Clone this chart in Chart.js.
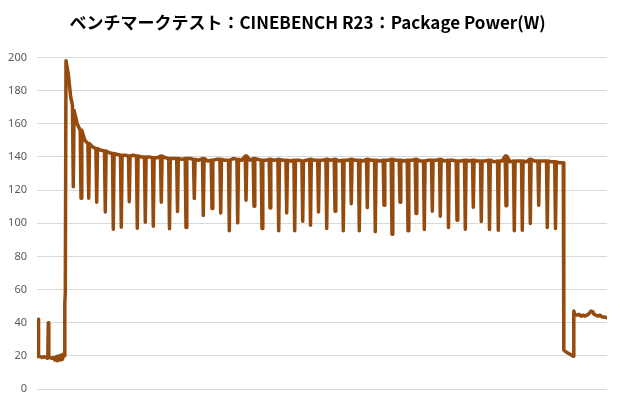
<!DOCTYPE html>
<html>
<head>
<meta charset="utf-8">
<script src="https://cdn.jsdelivr.net/npm/chart.js@4/dist/chart.umd.min.js"></script>
<style>
html,body{margin:0;padding:0;background:#fff;}
#wrap{width:620px;height:410px;position:relative;}
</style>
</head>
<body>
<div id="wrap"><canvas id="c" width="620" height="410"></canvas></div>
<script>
// Title and axis
const chartTitle = "ベンチマークテスト：CINEBENCH R23：Package Power(W)";
const yTicks = [0, 20, 40, 60, 80, 100, 120, 140, 160, 180, 200];

// Idle period and start-up spike (time, watts)
const headT = [0.3, 1.0, 1.3, 1.8, 3, 5, 7, 9, 10.5, 10.8, 11.3, 11.8, 13, 15, 16.5, 18, 19.5, 20.5, 22, 23.5, 24.5, 25.5, 26.5, 27.5, 27.8, 28.3, 29, 31.3, 33.7, 35.5];
const headV = [19.5, 31.5, 42, 20, 19.5, 19, 19.5, 19, 18.5, 19, 40, 19, 19, 18.5, 19, 17.5, 19.5, 17, 20, 17.5, 20.5, 18, 21, 20, 52, 58, 198, 190, 176, 171];

// Load period: periodic dips (time, bottom value), level around each dip, level midway to next dip
const dipT = [36.3, 44, 51.7, 59.7, 68.3, 76.3, 84.3, 92.3, 100.3, 108.3, 116.3, 124.3, 132.5, 140.5, 149, 157.3, 166.3, 175, 183.7, 192.3, 200.7, 209, 217, 225, 233, 241.7, 249.7, 257.7, 265.7, 273.5, 281.5, 289.7, 298, 306.3, 314.3, 322.3, 330.3, 338.3, 347, 355, 363, 371, 379, 387.3, 395.3, 403.3, 411.5, 420, 428.3, 436.3, 444.3, 452.5, 461.3, 469, 477.3, 485.3, 493.3, 501.7, 510.3, 518.5];
const dipV = [122, 115, 115, 112.6, 106.8, 96.4, 97.6, 113, 97, 100.6, 98.2, 112.6, 96.6, 107, 97.4, 114.9, 104.6, 108.8, 106.2, 95.4, 100.2, 113.9, 110.2, 96.8, 109.2, 95.4, 106.2, 95.4, 101.2, 98.8, 106.8, 96.8, 107.2, 95.4, 111.8, 95.4, 109.4, 94.8, 110.8, 93.4, 112.7, 95.4, 105.8, 96.2, 107.2, 104.2, 97.4, 101.8, 96.3, 109.6, 101, 96.2, 95.8, 110.6, 95.4, 95.8, 99.8, 110.8, 97.4, 96.8];
const topV = [168, 156, 148, 145, 143.5, 142, 141, 140.5, 140.5, 140, 139.5, 140.5, 139, 139, 139, 138.5, 139, 138, 138.5, 138, 138.5, 140.5, 139, 138, 138.5, 138.5, 138, 138, 137.5, 138.5, 138, 138.5, 138.5, 138, 138.5, 138, 138.5, 138, 138, 138.5, 138, 138, 138.5, 137.5, 138, 138.5, 138, 137.5, 138, 138, 137.5, 138, 137.5, 140.5, 137.5, 137.5, 138.5, 137.5, 137.5, 137];
const midV = [160, 150, 146, 144, 142.5, 141.5, 141, 141, 140, 140, 139.5, 139.5, 139, 138.5, 139, 138, 137.5, 138.5, 138, 139, 138, 138, 138.5, 138, 138, 138, 137.5, 138, 138, 138, 138, 138, 137.5, 138, 138, 137.5, 138, 137.5, 138, 138, 137.5, 138, 137.5, 138, 138, 137.5, 138, 137.5, 137.5, 137.5, 137.5, 137, 137.5, 137, 137.5, 137, 137.5, 137.5, 137, 136.5];

// End of load and cool-down (time, watts)
const tailT = [526.3, 526.8, 530, 533, 536.3, 536.8, 538, 540, 542, 544, 546, 548, 550, 552, 554, 556, 557, 559, 561, 563, 565, 567, 570];
const tailV = [136.5, 23.5, 22, 21, 19.8, 47, 45, 44.5, 45, 44, 44.5, 44, 44.5, 45.5, 47, 46.5, 45, 44.5, 44, 44.5, 43.5, 43.5, 43];

// Build the series from the arrays above
const pts = [];
headT.forEach((t, i) => pts.push({x: t, y: headV[i]}));
dipT.forEach((t, i) => {
  pts.push({x: t - 0.8, y: topV[i]});
  pts.push({x: t, y: dipV[i]});
  pts.push({x: t + 0.8, y: topV[i]});
  const next = i + 1 < dipT.length ? dipT[i + 1] : tailT[0];
  pts.push({x: (t + next) / 2, y: midV[i]});
});
tailT.forEach((t, i) => pts.push({x: t, y: tailV[i]}));

new Chart(document.getElementById('c'), {
  type: 'line',
  data: {
    datasets: [{
      data: pts,
      borderColor: '#954A0E',
      borderWidth: 3.5,
      borderJoinStyle: 'round',
      borderCapStyle: 'round',
      pointRadius: 0,
      tension: 0,
      fill: false
    }]
  },
  options: {
    responsive: false,
    animation: false,
    layout: {padding: {left: 8, right: 13, top: 0, bottom: 21}},
    plugins: {
      legend: {display: false},
      tooltip: {enabled: false},
      title: {
        display: true,
        text: chartTitle,
        color: '#000',
        font: {family: "'Noto Sans CJK JP', 'Noto Sans', sans-serif", size: 17, weight: 'bold'},
        padding: {top: 12, bottom: 25}
      }
    },
    scales: {
      x: {type: 'linear', min: 0, max: 570, display: false},
      y: {
        min: 0, max: 200,
        afterBuildTicks: (s) => { s.ticks = yTicks.map(v => ({value: v})); },
        afterFit: (s) => { s.width = 29; },
        ticks: {color: '#595959', font: {family: "'Noto Sans', sans-serif", size: 11}, padding: 10},
        grid: {color: '#D9D9D9', lineWidth: 1, drawTicks: false},
        border: {display: false}
      }
    }
  }
});
</script>
</body>
</html>
